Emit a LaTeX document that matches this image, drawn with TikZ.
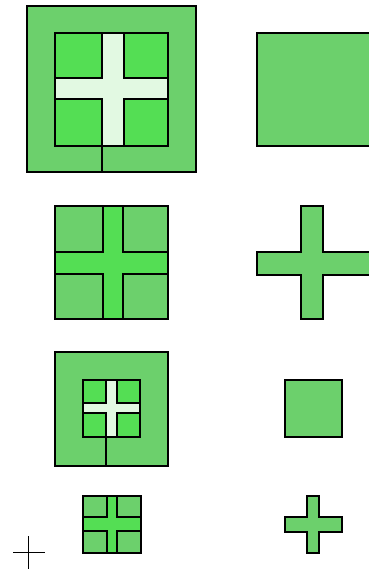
\documentclass[tikz,border=0pt]{standalone}
\usepackage{tikz}
\usepackage{xcolor}
\definecolor{checkGreen}{RGB}{108,208,108}
\definecolor{denseGreen}{RGB}{84,222,84}
\definecolor{paleGreen}{RGB}{226,249,226}

\begin{document}
\begin{tikzpicture}[x=1pt, y=-1pt,
  edge/.style={line width=1.5pt, draw=black},
  checkbox/.style={edge, fill=checkGreen},
  densebox/.style={edge, fill=denseGreen},
  palebox/.style={edge, fill=paleGreen},
]
  \useasboundingbox (0,0) rectangle (369,571);

  % row 1: framed cross and plain square
  \draw[checkbox] (27,6) rectangle (196,172);
  \draw[palebox] (55,33) rectangle (168,146);
  \foreach \xa/\xb in {55/102, 124/168}
    \foreach \ya/\yb in {33/78, 99/146}
      \draw[densebox] (\xa,\ya) rectangle (\xb,\yb);
  \draw[edge] (102,146) -- (102,172);
  \draw[checkbox] (257,33) rectangle (370,146);

  % row 2: square with cross band, cross
  \draw[densebox] (55,206) rectangle (168,319);
  \foreach \xa/\xb in {55/103, 123/168}
    \foreach \ya/\yb in {206/252, 274/319}
      \draw[checkbox] (\xa,\ya) rectangle (\xb,\yb);
  \draw[checkbox] (301,206) -- (323,206) -- (323,252) -- (370,252) -- (370,275)
    -- (323,275) -- (323,319) -- (301,319) -- (301,275) -- (257,275)
    -- (257,252) -- (301,252) -- cycle;

  % row 3: half size
  \draw[checkbox] (55,352) rectangle (168,466);
  \draw[palebox] (83,380) rectangle (140,437);
  \foreach \xa/\xb in {83/106, 117/140}
    \foreach \ya/\yb in {380/403, 413/437}
      \draw[densebox] (\xa,\ya) rectangle (\xb,\yb);
  \draw[edge] (106,437) -- (106,466);
  \draw[checkbox] (285,380) rectangle (342,437);

  % row 4
  \draw[densebox] (83,496) rectangle (141,553);
  \foreach \xa/\xb in {83/107, 117/141}
    \foreach \ya/\yb in {496/517, 531/553}
      \draw[checkbox] (\xa,\ya) rectangle (\xb,\yb);
  \draw[checkbox] (307,496) -- (319,496) -- (319,517) -- (342,517) -- (342,532)
    -- (319,532) -- (319,553) -- (307,553) -- (307,532) -- (285,532)
    -- (285,517) -- (307,517) -- cycle;

  % marker
  \draw[line width=1pt] (13,552) -- (45,552);
  \draw[line width=1pt] (28,536) -- (28,569);
\end{tikzpicture}
\end{document}
